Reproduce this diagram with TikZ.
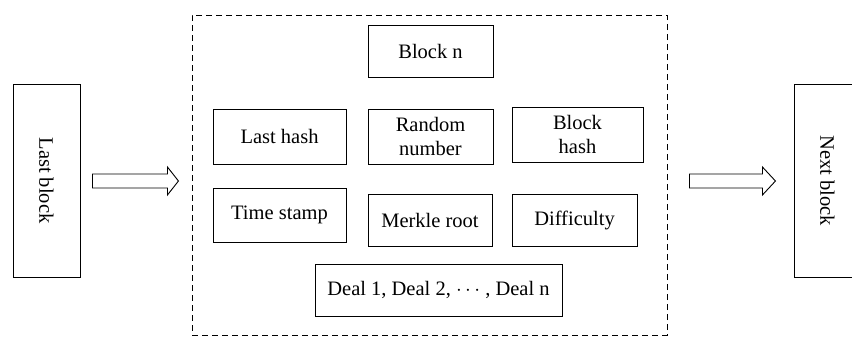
\documentclass[tikz,border=0pt]{standalone}
\usepackage{fontspec}
\setmainfont{Liberation Serif}
\usetikzlibrary{calc}
\begin{document}
\begin{tikzpicture}[x=1pt,y=-1pt,
  txt/.style={font=\fontsize{20.5}{24}\selectfont},
  box/.style={draw, line width=0.9pt, rectangle, inner sep=0pt, align=center, txt},
  sidebox/.style={box, minimum width=67pt, minimum height=193pt},
  blockarrow/.style={draw, line width=0.9pt, fill=white, line join=miter}]
\useasboundingbox (0,0) rectangle (852,349);
\begin{scope}
\clip (0,0) rectangle (852,349);
\node[sidebox] (last) at (46.5,180.5) {};
\node[rotate=-90, txt] (lastt) at (last.center) {Last block};
\node[sidebox] (next) at (827.5,180.5) {};
\node[rotate=-90, txt] (nextt) at (next.center) {Next block};
\end{scope}
\node[draw, dash pattern=on 6pt off 4pt, line width=0.9pt, minimum width=475pt, minimum height=320pt, inner sep=0pt] (frame) at (429.5,175) {};
\node[box, minimum width=125pt, minimum height=52pt] (blockn) at (430.5,51) {Block n};
\node[box, minimum width=133pt, minimum height=55pt] (lasthash) at (279.5,136.5) {Last hash};
\node[box, minimum width=125pt, minimum height=55pt] (random) at (430.5,136.5) {Random\\number};
\node[box, minimum width=131pt, minimum height=55pt] (bhash) at (577.5,134.5) {Block\\hash};
\node[box, minimum width=133pt, minimum height=54pt] (time) at (279.5,215) {Time stamp};
\node[box, minimum width=124pt, minimum height=52pt] (merkle) at (430,220) {Merkle root};
\node[box, minimum width=125pt, minimum height=52pt] (diff) at (574.5,220) {Difficulty};
\node[box, minimum width=247pt, minimum height=52pt] (deal) at (438.5,290) {Deal 1, Deal 2, $\cdots$ , Deal n};
% block arrows
\coordinate (la) at ($(last.east)+(12,0.5)$);
\draw[blockarrow] (la) ++(0,-7) -- ++(75,0) -- ++(0,-7) -- ++(11,14) -- ++(-11,14) -- ++(0,-7) -- ++(-75,0) -- cycle;
\coordinate (ra) at ($(frame.east)+(22,6)$);
\draw[blockarrow] (ra) ++(0,-7) -- ++(73,0) -- ++(0,-7) -- ++(13,14) -- ++(-13,14) -- ++(0,-7) -- ++(-73,0) -- cycle;
\end{tikzpicture}
\end{document}
